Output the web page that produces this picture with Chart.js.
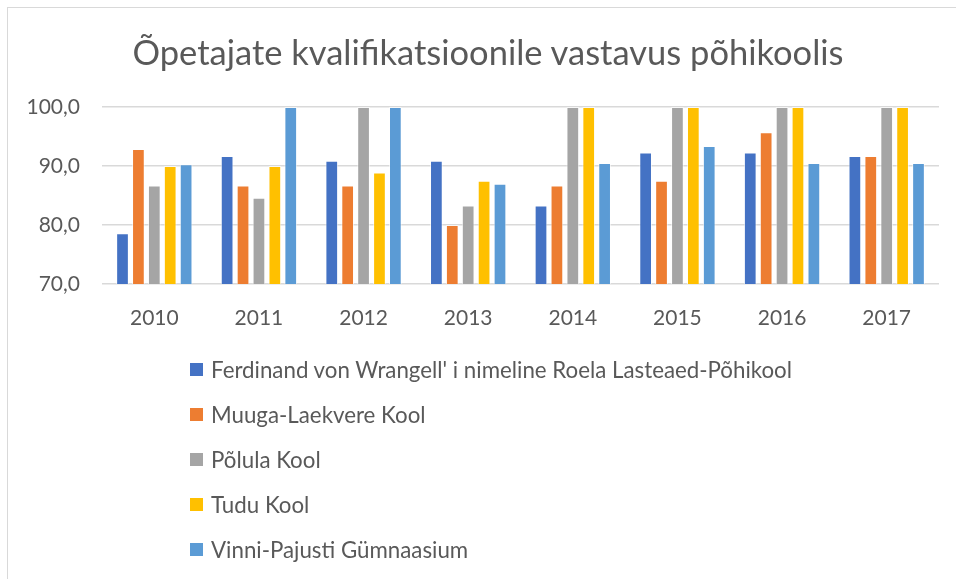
<!DOCTYPE html>
<html>
<head>
<meta charset="utf-8">
<script src="https://cdn.jsdelivr.net/npm/chart.js@4"></script>
<style>
  html, body { margin: 0; padding: 0; background: #fff; }
  #wrap { position: relative; width: 956px; height: 579px; overflow: hidden; }
  #frame { position: absolute; left: 7px; top: 7px; width: 980px; height: 600px; border: 1px solid #d9d9d9; box-sizing: border-box; }
  #chart { position: absolute; left: 0; top: 0; }
  #title { position: absolute; left: 0; top: 31px; width: 976px; text-align: center; font-family: Lato, "Noto Sans", sans-serif; font-size: 34.5px; line-height: 42px; color: #595959; white-space: nowrap; }
  #legend { position: absolute; left: 190px; top: 347px; font-family: Lato, "Noto Sans", sans-serif; font-size: 22.3px; color: #595959; }
  #legend .item { height: 45px; display: flex; align-items: center; white-space: nowrap; margin-top: 0; }
  #legend .box { width: 13px; height: 13px; margin-right: 8px; flex: none; }
</style>
</head>
<body>
<div id="wrap">
  <div id="frame"></div>
  <canvas id="chart" width="956" height="579"></canvas>
  <div id="title">Õpetajate kvalifikatsioonile vastavus põhikoolis</div>
  <div id="legend"></div>
</div>
<script>
const years = ["2010", "2011", "2012", "2013", "2014", "2015", "2016", "2017"];
const schools = [
  "Ferdinand von Wrangell' i nimeline Roela Lasteaed-Põhikool",
  "Muuga-Laekvere Kool",
  "Põlula Kool",
  "Tudu Kool",
  "Vinni-Pajusti Gümnaasium",
];
const roela = [78.6, 91.7, 90.9, 90.9, 83.3, 92.3, 92.3, 91.7];
const muuga = [92.9, 86.7, 86.7, 80.0, 86.7, 87.5, 95.7, 91.7];
const polula = [86.7, 84.6, 100, 83.3, 100, 100, 100, 100];
const tudu = [90.0, 90.0, 88.9, 87.5, 100, 100, 100, 100];
const vinni = [90.3, 100, 100, 87.0, 90.5, 93.4, 90.5, 90.5];
const colors = ["#4472C4", "#ED7D31", "#A5A5A5", "#FFC000", "#5B9BD5"];

const seriesValues = [roela, muuga, polula, tudu, vinni];
const textColor = "#595959";
const fontFamily = "Lato, 'Noto Sans', sans-serif";

const chart = new Chart(document.getElementById("chart"), {
    type: "bar",
    data: {
        labels: years,
        datasets: schools.map((name, i) => ({
            label: name,
            data: seriesValues[i],
            backgroundColor: colors[i],
            borderColor: "rgba(255,255,255,0.6)",
            borderWidth: { left: 1, right: 1, top: 1, bottom: 0 },
            categoryPercentage: 0.76,
            barPercentage: 0.8,
        })),
    },
    options: {
        responsive: false,
        animation: false,
        // title and legend are html, the canvas only holds the plot
        layout: { padding: { left: 7, right: 17, top: 107, bottom: 245 } },
        plugins: {
            legend: { display: false },
            tooltip: { enabled: false },
            title: { display: false },
        },
        scales: {
            x: {
                grid: { display: false },
                border: { display: false },
                ticks: { color: textColor, font: { family: fontFamily, size: 21 }, padding: 14 },
                afterFit: (scale) => { scale.height = 50; },
            },
            y: {
                min: 70,
                max: 100,
                ticks: {
                    stepSize: 10,
                    color: textColor,
                    font: { family: fontFamily, size: 21 },
                    padding: 22,
                    callback: (v) => v.toFixed(1).replace(".", ","),
                },
                grid: { color: "#d9d9d9", lineWidth: 1.5, drawTicks: false },
                border: { display: false },
                afterFit: (scale) => { scale.width = 95; },
            },
        },
    },
});

// legend as html list, one school per row
const legendEl = document.getElementById("legend");
chart.data.datasets.forEach((ds) => {
    const row = document.createElement("div");
    row.className = "item";
    const box = document.createElement("span");
    box.className = "box";
    box.style.background = ds.backgroundColor;
    const label = document.createElement("span");
    label.textContent = ds.label;
    row.appendChild(box);
    row.appendChild(label);
    legendEl.appendChild(row);
});
</script>
</body>
</html>
